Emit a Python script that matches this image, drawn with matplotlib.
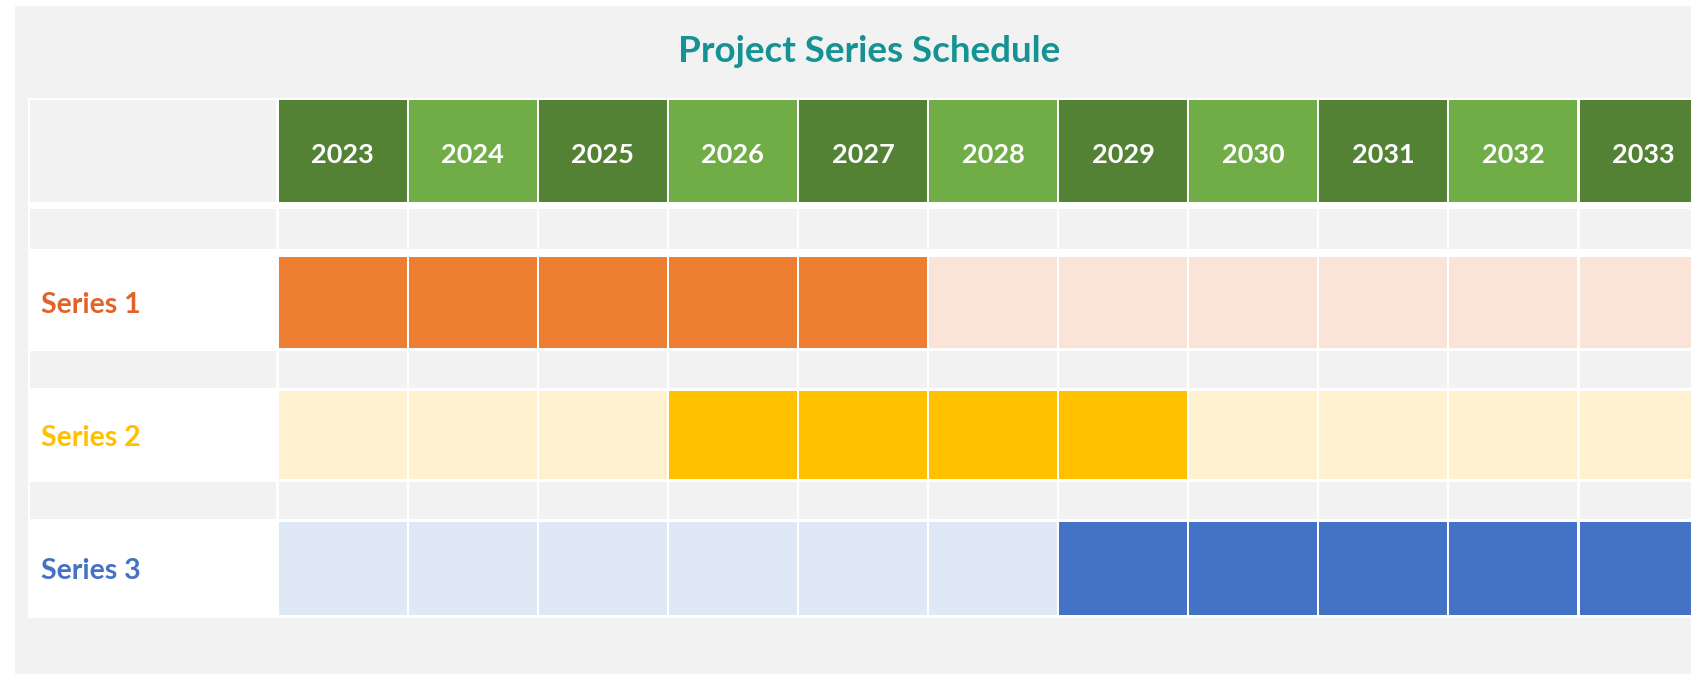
import matplotlib.pyplot as plt
from matplotlib.patches import Rectangle

# data
years = ['2023', '2024', '2025', '2026', '2027', '2028', '2029', '2030', '2031', '2032', '2033']
series_names = ['Series 1', 'Series 2', 'Series 3']
series_start = [2023, 2026, 2029]
series_end = [2027, 2029, 2033]

# colours
panel_bg = '#f2f2f2'
header_dark = '#548235'
header_light = '#70ad47'
title_color = '#159394'
label_colors = ['#e2632a', '#ffc000', '#4472c4']
active_colors = ['#ed7d31', '#ffc000', '#4472c4']
idle_colors = ['#fae4d8', '#fff1cf', '#dee9f5']

W, H = 1691, 674
fig = plt.figure(figsize=(W / 100, H / 100), dpi=100)
fig.patch.set_facecolor('white')
ax = fig.add_axes([0, 0, 1, 1])
ax.set_xlim(0, W)
ax.set_ylim(H, 0)
ax.axis('off')

plt.rcParams['font.family'] = ['Lato', 'DejaVu Sans']

# grey panel and white table background
ax.add_patch(Rectangle((15, 6), W, H, facecolor=panel_bg, edgecolor='none'))
ax.add_patch(Rectangle((28, 98), W, 520, facecolor='white', edgecolor='none'))

ax.text(869, 49, 'Project Series Schedule', ha='center', va='center_baseline',
        fontsize=26.5, fontweight='bold', color=title_color)

label_x0, label_x1 = 30, 276
col_x0, col_pitch, col_w = 278.5, 130.1, 128

def cell(x, y, w, h, color):
    ax.add_patch(Rectangle((x, y), w, h, facecolor=color, edgecolor='none'))

# header row
hdr_top, hdr_h = 100, 102
cell(label_x0, hdr_top, label_x1 - label_x0, hdr_h, panel_bg)
for i, yr in enumerate(years):
    x = col_x0 + i * col_pitch
    cell(x, hdr_top, col_w, hdr_h, header_dark if i % 2 == 0 else header_light)
    ax.text(x + col_w / 2, hdr_top + hdr_h / 2 + 2, yr, ha='center', va='center_baseline',
            fontsize=19.5, fontweight='bold', color='white')

# spacer rows + series rows
spacer_tops = [209, 351, 482]
spacer_hs = [40, 37, 37]
row_tops = [257, 391, 522]
row_hs = [91, 88, 93]

for k, name in enumerate(series_names):
    st, sh = spacer_tops[k], spacer_hs[k]
    cell(label_x0, st, label_x1 - label_x0, sh, panel_bg)
    for i in range(len(years)):
        cell(col_x0 + i * col_pitch, st, col_w, sh, panel_bg)

    rt, rh = row_tops[k], row_hs[k]
    ax.text(41, rt + rh / 2, name, ha='left', va='center_baseline',
            fontsize=20.5, fontweight='bold', color=label_colors[k])
    for i, yr in enumerate(years):
        active = series_start[k] <= int(yr) <= series_end[k]
        cell(col_x0 + i * col_pitch, rt, col_w, rh,
             active_colors[k] if active else idle_colors[k])

fig.savefig('out.png', dpi=100, facecolor=fig.get_facecolor())
